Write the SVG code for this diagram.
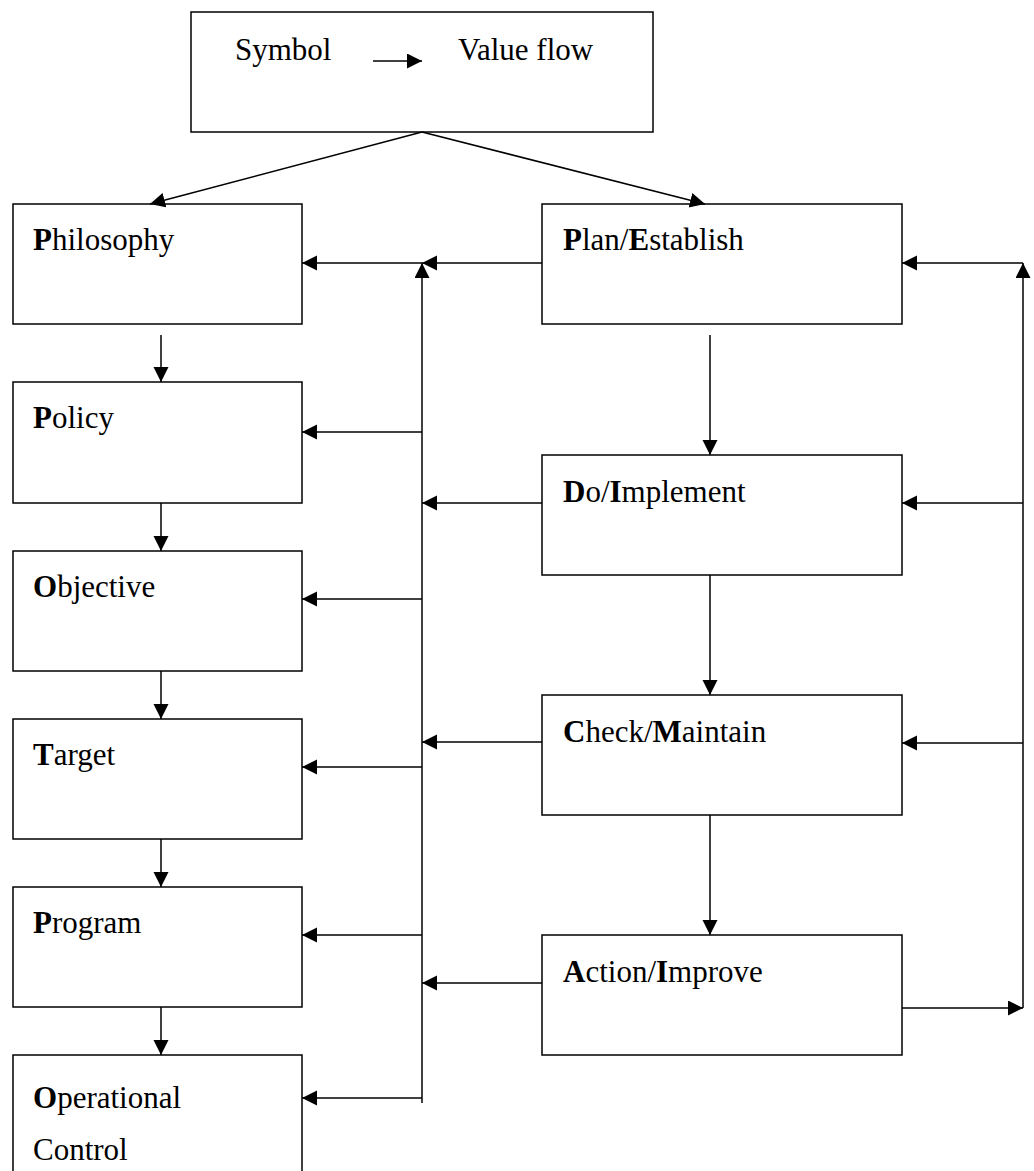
<svg xmlns="http://www.w3.org/2000/svg" width="1034" height="1171" viewBox="0 0 1034 1171">
<style>
.box{fill:#fff;stroke:#000;stroke-width:1.5}
.t{font-family:"Liberation Serif","Times New Roman",serif;font-size:31px;fill:#000}
.b{font-weight:bold}
.c{fill:none;stroke:#000;stroke-width:1.5}
</style>
<defs>
<marker id="ah" markerUnits="userSpaceOnUse" markerWidth="16" markerHeight="16" refX="15" refY="7.5" orient="auto" viewBox="0 0 16 16">
<path d="M0,0 L15,7.5 L0,15 z" fill="#000"/>
</marker>
</defs>
<rect width="1034" height="1171" fill="#fff"/>
<g id="legend">
<rect class="box" x="191" y="12" width="462" height="120"/>
<text class="t" x="235" y="60">Symbol</text>
<line class="c" x1="373" y1="61" x2="422" y2="61" marker-end="url(#ah)"/>
<text class="t" x="458" y="60">Value flow</text>
</g>
<g id="philosophy"><rect class="box" x="13" y="204" width="289" height="120"/><text class="t" x="33" y="250"><tspan class="b">P</tspan>hilosophy</text></g>
<g id="policy"><rect class="box" x="13" y="382" width="289" height="121"/><text class="t" x="33" y="428"><tspan class="b">P</tspan>olicy</text></g>
<g id="objective"><rect class="box" x="13" y="551" width="289" height="120"/><text class="t" x="33" y="597"><tspan class="b">O</tspan>bjective</text></g>
<g id="target"><rect class="box" x="13" y="719" width="289" height="120"/><text class="t" x="33" y="765"><tspan class="b">T</tspan>arget</text></g>
<g id="program"><rect class="box" x="13" y="887" width="289" height="120"/><text class="t" x="33" y="933"><tspan class="b">P</tspan>rogram</text></g>
<g id="operational-control"><rect class="box" x="13" y="1055" width="289" height="130"/><text class="t" x="33" y="1108"><tspan class="b">O</tspan>perational</text><text class="t" x="33" y="1160">Control</text></g>
<g id="plan"><rect class="box" x="542" y="204" width="360" height="120"/><text class="t" x="563" y="250"><tspan class="b">P</tspan>lan/<tspan class="b">E</tspan>stablish</text></g>
<g id="do"><rect class="box" x="542" y="455" width="360" height="120"/><text class="t" x="563" y="502"><tspan class="b">D</tspan>o/<tspan class="b">I</tspan>mplement</text></g>
<g id="check"><rect class="box" x="542" y="695" width="360" height="120"/><text class="t" x="563" y="742"><tspan class="b">C</tspan>heck/<tspan class="b">M</tspan>aintain</text></g>
<g id="action"><rect class="box" x="542" y="935" width="360" height="120"/><text class="t" x="563" y="982"><tspan class="b">A</tspan>ction/<tspan class="b">I</tspan>mprove</text></g>
<g id="connectors">
<line class="c" x1="422" y1="132" x2="150" y2="204" marker-end="url(#ah)"/>
<line class="c" x1="422" y1="132" x2="705" y2="204" marker-end="url(#ah)"/>
<line class="c" x1="161" y1="335" x2="161" y2="382" marker-end="url(#ah)"/>
<line class="c" x1="161" y1="503" x2="161" y2="551" marker-end="url(#ah)"/>
<line class="c" x1="161" y1="671" x2="161" y2="719" marker-end="url(#ah)"/>
<line class="c" x1="161" y1="839" x2="161" y2="887" marker-end="url(#ah)"/>
<line class="c" x1="161" y1="1007" x2="161" y2="1055" marker-end="url(#ah)"/>
<line class="c" x1="710" y1="335" x2="710" y2="455" marker-end="url(#ah)"/>
<line class="c" x1="710" y1="575" x2="710" y2="695" marker-end="url(#ah)"/>
<line class="c" x1="710" y1="815" x2="710" y2="935" marker-end="url(#ah)"/>
<line class="c" x1="422" y1="1103" x2="422" y2="263" marker-end="url(#ah)"/>
<line class="c" x1="542" y1="263" x2="422" y2="263" marker-end="url(#ah)"/>
<line class="c" x1="422" y1="263" x2="302" y2="263" marker-end="url(#ah)"/>
<line class="c" x1="422" y1="432" x2="302" y2="432" marker-end="url(#ah)"/>
<line class="c" x1="542" y1="503" x2="422" y2="503" marker-end="url(#ah)"/>
<line class="c" x1="422" y1="599" x2="302" y2="599" marker-end="url(#ah)"/>
<line class="c" x1="542" y1="742" x2="422" y2="742" marker-end="url(#ah)"/>
<line class="c" x1="422" y1="767" x2="302" y2="767" marker-end="url(#ah)"/>
<line class="c" x1="422" y1="935" x2="302" y2="935" marker-end="url(#ah)"/>
<line class="c" x1="542" y1="983" x2="422" y2="983" marker-end="url(#ah)"/>
<line class="c" x1="422" y1="1098" x2="302" y2="1098" marker-end="url(#ah)"/>
<line class="c" x1="902" y1="1008" x2="1023" y2="1008" marker-end="url(#ah)"/>
<line class="c" x1="1023" y1="1008" x2="1023" y2="263" marker-end="url(#ah)"/>
<line class="c" x1="1023" y1="263" x2="902" y2="263" marker-end="url(#ah)"/>
<line class="c" x1="1023" y1="503" x2="902" y2="503" marker-end="url(#ah)"/>
<line class="c" x1="1023" y1="743" x2="902" y2="743" marker-end="url(#ah)"/>
</g>
</svg>
